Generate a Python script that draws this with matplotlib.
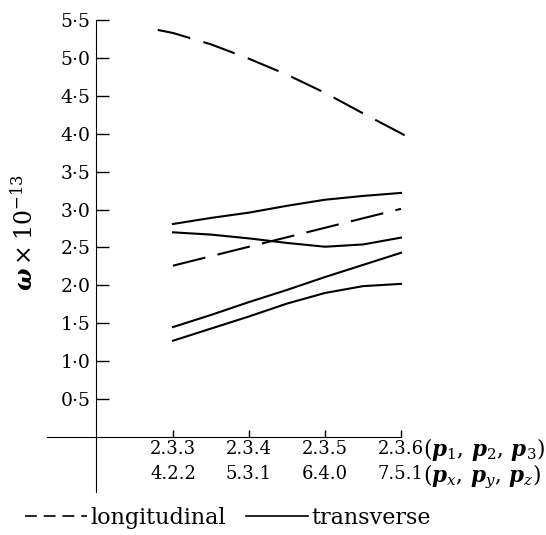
import matplotlib.pyplot as plt
from matplotlib.lines import Line2D

plt.rcParams['font.family'] = ['DejaVu Serif']
plt.rcParams['mathtext.fontset'] = 'dejavuserif'
plt.rcParams['lines.scale_dashes'] = False

# (p1,p2,p3) and (px,py,pz) labels for the four wave vectors
p123 = ['2.3.3', '2.3.4', '2.3.5', '2.3.6']
pxyz = ['4.2.2', '5.3.1', '6.4.0', '7.5.1']
k = [0, 1, 2, 3]

kk = [0, 0.5, 1, 1.5, 2, 2.5, 3]

# longitudinal branches (dashed)
long_hi_x = [-0.2, 0, 0.5, 1, 1.5, 2, 2.5, 3.05]
long_hi = [5.37, 5.33, 5.18, 4.99, 4.78, 4.54, 4.27, 3.98]
long_lo = [2.26, 2.51, 2.76, 3.01]

# transverse branches (solid)
trans_1 = [2.81, 2.89, 2.96, 3.05, 3.13, 3.18, 3.22]
trans_2 = [2.70, 2.67, 2.62, 2.56, 2.51, 2.54, 2.63]
trans_3 = [1.45, 1.61, 1.78, 1.94, 2.11, 2.27, 2.43]
trans_4 = [1.27, 1.43, 1.59, 1.76, 1.90, 1.99, 2.02]

yticks = [0.5, 1.0, 1.5, 2.0, 2.5, 3.0, 3.5, 4.0, 4.5, 5.0, 5.5]

fig = plt.figure(figsize=(5.46, 5.35), dpi=100)
ax = fig.add_axes([0, 0, 1, 1])
ax.set_xlim(-2.276, 4.908)
ax.set_ylim(-1.293, 5.765)

lw = 1.5
ax.plot(long_hi_x, long_hi, color='black', lw=lw, dashes=(24, 10))
ax.plot(k, long_lo, color='black', lw=lw, dashes=(24, 9))
for t in [trans_1, trans_2, trans_3, trans_4]:
    ax.plot(kk, t, color='black', lw=lw)

for s in ['top', 'right']:
    ax.spines[s].set_visible(False)
ax.spines['left'].set_position(('data', -1.01))
ax.spines['left'].set_bounds(-0.72, 5.5)
ax.spines['bottom'].set_position(('data', 0))
ax.spines['bottom'].set_bounds(-1.66, 3.0)

ax.set_yticks(yticks)
ax.set_yticklabels([('%.1f' % v).replace('.', '\u00b7') for v in yticks])
ax.set_xticks(k)
ax.set_xticklabels([a + '\n' + b for a, b in zip(p123, pxyz)])
ax.tick_params(axis='y', direction='in', length=9, width=1, pad=4, labelsize=13.5)
ax.tick_params(axis='x', direction='in', length=5, width=1, pad=2, labelsize=13)
for lbl in ax.get_xticklabels():
    lbl.set_linespacing(1.5)

ax.text(-1.95, 2.7, r'$\boldsymbol{\omega}\times10^{-13}$', rotation=90,
        fontsize=17, ha='center', va='center')
ax.text(3.29, -0.16, r'$(\boldsymbol{p}_1,\,\boldsymbol{p}_2,\,\boldsymbol{p}_3)$',
        fontsize=15.5, ha='left', va='center')
ax.text(3.29, -0.53, r'$(\boldsymbol{p}_x,\,\boldsymbol{p}_y,\,\boldsymbol{p}_z)$',
        fontsize=15.5, ha='left', va='center')

handles = [Line2D([], [], color='black', lw=1.2, dashes=(8.5, 5)),
           Line2D([], [], color='black', lw=1.2)]
fig.legend(handles, ['longitudinal', 'transverse'], loc='center left',
           bbox_to_anchor=(25 / 546, 0.032), ncol=2, frameon=False,
           fontsize=16, handlelength=2.8, handletextpad=0.15,
           columnspacing=0.9, borderpad=0, borderaxespad=0)

fig.savefig('out.png', dpi=100)
